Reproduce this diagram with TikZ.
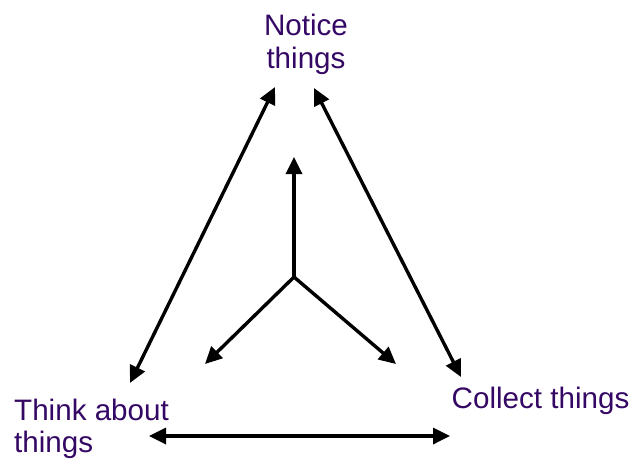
\documentclass[tikz,border=0pt]{standalone}
\usepackage{fontspec}
\setmainfont{Liberation Sans}
\usepackage{xcolor}
\usetikzlibrary{arrows.meta, positioning}
\definecolor{ideaPurple}{RGB}{52,8,100}
\definecolor{darkText}{RGB}{0,0,0}
\tikzset{
    ideatext/.style={
        inner sep=0pt,
        align=left,
        text=ideaPurple,
        font=\fontsize{29.6}{32.5}\selectfont
    },
    cyclearrow/.style={{Triangle[length=17pt,width=16pt]}-{Triangle[length=17pt,width=16pt]}, line width=3.4pt, draw=darkText},
    hubarrow/.style={-{Triangle[length=17pt,width=16pt]}, line width=3.4pt, draw=darkText}
}
\begin{document}
\begin{tikzpicture}[x=1pt, y=-1pt]
        \useasboundingbox (0,0) rectangle (636,463);
        % the three activities
        \node[ideatext, align=center] (notice) at (306,44.5) {Notice\\things};
        \node[ideatext, anchor=west] (think) at (14,429) {Think about\\things};
        \node[ideatext, anchor=base west] (collect) at (451.5,408) {Collect things};
        % arrow ends round the triangle
        \coordinate (noticeL) at (275,87);
        \coordinate (noticeR) at (314,88);
        \coordinate (thinkT) at (130,383);
        \coordinate (thinkR) at (149,436);
        \coordinate (collectT) at (461,377);
        \coordinate (collectL) at (450,436);
        \draw[cyclearrow] (noticeL) -- (thinkT);
        \draw[cyclearrow] (noticeR) -- (collectT);
        \draw[cyclearrow] (thinkR) -- (collectL);
        % the hub in the middle
        \coordinate (hub) at (294,277);
        \coordinate (hubUp) at (294,157);
        \coordinate (hubLeft) at (205,364);
        \coordinate (hubRight) at (396,364);
        \draw[hubarrow] (hub) -- (hubUp);
        \draw[hubarrow] (hub) -- (hubLeft);
        \draw[hubarrow] (hub) -- (hubRight);
    \end{tikzpicture}
\end{document}
